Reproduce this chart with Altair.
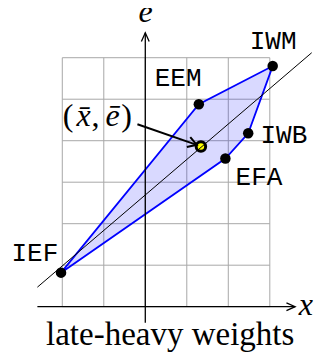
import math
import altair as alt
import pandas as pd

# ---- data (chart units) ----
names = ["IEF", "EEM", "IWM", "IWB", "EFA"]
xs = [-2.03, 1.29, 3.07, 2.48, 1.93]
es = [0.82, 4.88, 5.80, 4.18, 3.57]
hull_order = [0, 1, 2, 3, 4]
label_x = [-2.66, 0.79, 3.08, 3.34, 2.74]
label_e = [1.30, 5.50, 6.40, 4.14, 3.13]

mean_x, mean_e = [1.34], [3.86]
fit_x = [-2.60, 4.01]
fit_e = [0.47, 6.12]

grid_x = [-2, -1, 0, 1, 2, 3]
grid_e = [0, 1, 2, 3, 4, 5, 6]

xaxis_range = [-2.60, 3.61]
eaxis_range = [-0.39, 6.60]

# annotation "(x̄, ē)" split into upright / italic pieces
ann_up_text = ["(", ",", ")"]
ann_up_x = [-1.862, -1.200, -0.453]
ann_it_text = ["x\u0304", "\u0113"]
ann_it_x = [-1.489, -0.790]
ann_base_e = 4.366
arrow_from = [-0.19, 4.395]
arrow_to = [1.24, 3.90]

axis_names = ["e", "x"]
axis_name_x = [0.01, 3.87]
axis_name_e = [6.85, -0.20]

title_text = ["late-heavy weights"]
title_pos = [0.60, -0.923]

# ---- scales ----
xs_scale = alt.Scale(domain=[-3.308, 4.065], nice=False, zero=False)
ys_scale = alt.Scale(domain=[-1.092, 7.198], nice=False, zero=False)


def X(f, **k):
    return alt.X(f, type="quantitative", scale=xs_scale, axis=None, **k)


def Y(f, **k):
    return alt.Y(f, type="quantitative", scale=ys_scale, axis=None, **k)


def X2(f):
    return alt.X2(f)


def Y2(f):
    return alt.Y2(f)


# grid
vlines = pd.DataFrame({"x": grid_x, "y": [grid_e[0]] * len(grid_x), "y2": [grid_e[-1]] * len(grid_x)})
hlines = pd.DataFrame({"y": grid_e, "x": [grid_x[0]] * len(grid_e), "x2": [grid_x[-1]] * len(grid_e)})
grid_col = "#a8a8a8"
g1 = alt.Chart(vlines).mark_rule(color=grid_col, strokeWidth=1).encode(x=X("x"), y=Y("y"), y2=Y2("y2"))
g2 = alt.Chart(hlines).mark_rule(color=grid_col, strokeWidth=1).encode(y=Y("y"), x=X("x"), x2=X2("x2"))

# polygon
pts = pd.DataFrame({"name": names, "x": xs, "e": es, "ord": hull_order})
poly = alt.Chart(pts).mark_line(
    interpolate="linear-closed", fill="#0000ff", fillOpacity=0.15,
    stroke="#0000ff", strokeWidth=1.8
).encode(x=X("x"), y=Y("e"), order="ord:Q")

# axes
ax_h = alt.Chart(pd.DataFrame({"x": [xaxis_range[0]], "x2": [xaxis_range[1]], "y": [0]})).mark_rule(
    color="black", strokeWidth=1.3).encode(x=X("x"), x2=X2("x2"), y=Y("y"))
ax_v = alt.Chart(pd.DataFrame({"y": [eaxis_range[0]], "y2": [eaxis_range[1]], "x": [0]})).mark_rule(
    color="black", strokeWidth=1.3).encode(y=Y("y"), y2=Y2("y2"), x=X("x"))
heads = pd.DataFrame({"x": [xaxis_range[1], 0], "y": [0, eaxis_range[1]], "ang": [0, 270]})
ax_heads = alt.Chart(heads).mark_point(
    shape="M-1,-0.45L0,0L-1,0.45", size=300, filled=False, color="black",
    strokeWidth=1.3, opacity=1
).encode(x=X("x"), y=Y("y"), angle=alt.Angle("ang:Q", scale=None))

# dots
dots = alt.Chart(pts).mark_circle(size=110, color="black", opacity=1).encode(x=X("x"), y=Y("e"))
mean = alt.Chart(pd.DataFrame({"x": mean_x, "e": mean_e})).mark_point(
    shape="circle", size=90, filled=True, fill="#ffff00", stroke="black", strokeWidth=3, opacity=1
).encode(x=X("x"), y=Y("e"))

# fitted line
fit = alt.Chart(pd.DataFrame({"x": [fit_x[0]], "x2": [fit_x[1]], "y": [fit_e[0]], "y2": [fit_e[1]]})).mark_rule(
    color="black", strokeWidth=1).encode(x=X("x"), x2=X2("x2"), y=Y("y"), y2=Y2("y2"))

# annotation arrow
arr = alt.Chart(pd.DataFrame({"x": [arrow_from[0]], "x2": [arrow_to[0]], "y": [arrow_from[1]], "y2": [arrow_to[1]]})).mark_rule(
    color="black", strokeWidth=2).encode(x=X("x"), x2=X2("x2"), y=Y("y"), y2=Y2("y2"))
ang = math.degrees(math.atan2(-(arrow_to[1] - arrow_from[1]), arrow_to[0] - arrow_from[0])) % 360
arr_head = alt.Chart(pd.DataFrame({"x": [arrow_to[0]], "y": [arrow_to[1]], "ang": [ang]})).mark_point(
    shape="M-1,-0.6L0,0L-1,0.6", size=300, filled=False, color="black", strokeWidth=2, opacity=1
).encode(x=X("x"), y=Y("y"), angle=alt.Angle("ang:Q", scale=None))

# labels
labs = alt.Chart(pd.DataFrame({"t": names, "x": label_x, "e": label_e})).mark_text(
    font="Liberation Mono", fontSize=26, align="center", baseline="middle", color="black"
).encode(x=X("x"), y=Y("e"), text="t:N")

ann_up = alt.Chart(pd.DataFrame({"t": ann_up_text, "x": ann_up_x, "e": [ann_base_e] * 3})).mark_text(
    font="Liberation Serif", fontSize=32, align="center", baseline="alphabetic", color="black"
).encode(x=X("x"), y=Y("e"), text="t:N")
ann_it = alt.Chart(pd.DataFrame({"t": ann_it_text, "x": ann_it_x, "e": [ann_base_e] * 2})).mark_text(
    font="Liberation Serif", fontSize=32, fontStyle="italic", align="center", baseline="alphabetic", color="black"
).encode(x=X("x"), y=Y("e"), text="t:N")

axlab = alt.Chart(pd.DataFrame({"t": axis_names, "x": axis_name_x, "e": axis_name_e})).mark_text(
    font="Liberation Serif", fontSize=32, fontStyle="italic", align="center", baseline="alphabetic", color="black"
).encode(x=X("x"), y=Y("e"), text="t:N")

title = alt.Chart(pd.DataFrame({"t": title_text, "x": [title_pos[0]], "e": [title_pos[1]]})).mark_text(
    font="Liberation Serif", fontSize=33, align="center", baseline="alphabetic", color="black"
).encode(x=X("x"), y=Y("e"), text="t:N")

chart = alt.layer(
    g1, g2, poly, ax_h, ax_v, ax_heads, dots, mean, fit, arr, arr_head, labs, ann_up, ann_it, axlab, title
).properties(
    width=306, height=344,
    padding=0,
    autosize=alt.AutoSizeParams(type="none")
).configure_view(stroke=None)

chart.save("out.html", embed_options={"renderer": "svg", "actions": False})
